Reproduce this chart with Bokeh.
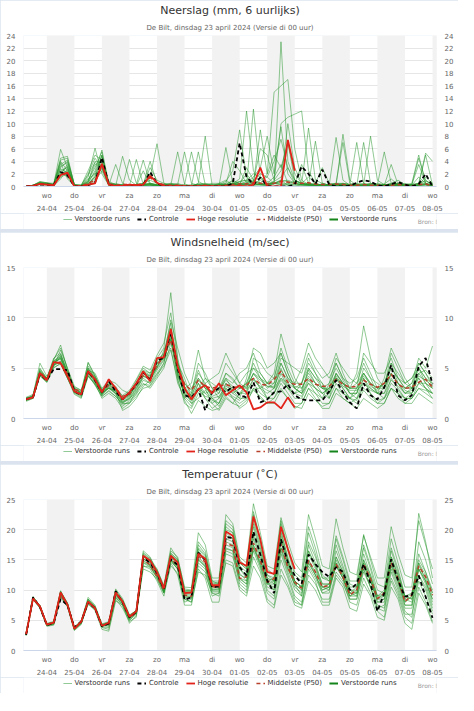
from bokeh.plotting import figure
from bokeh.models import (Range1d, FixedTicker, BoxAnnotation, Legend, LegendItem,
                          Title, LinearAxis, Label)
from bokeh.layouts import column
from bokeh.embed import file_html
from bokeh.resources import INLINE

FONT = "DejaVu Sans"

# ---------------------------------------------------------------- time axis
# 6-hourly steps after 23-04-2024 00 UTC (06, 12, 18, 00 ...), 60 steps
steps_hours = [6 * (i + 1) for i in range(60)]
day_ticks = list(range(1, 16))
day_names = ["wo", "do", "vr", "za", "zo", "ma", "di", "wo", "do", "vr", "za", "zo", "ma", "di", "wo"]
day_dates = ["24-04", "25-04", "26-04", "27-04", "28-04", "29-04", "30-04", "01-05",
             "02-05", "03-05", "04-05", "05-05", "06-05", "07-05", "08-05"]


def flat(groups):
    return [v for g in groups for v in g]


# ---------------------------------------------------------------- neerslag
precip_control = flat([[0, 0.1, 0.3, 0.3], [0.2, 2.3, 1.8, 0], [0, 0.2, 0.6, 4.6], [0.3, 0, 0.1, 0],
                       [0.1, 0.2, 2.3, 0.5], [0.1, 0, 0, 0], [0, 0, 0, 0], [0, 0, 0.5, 6.9],
                       [1.5, 0.3, 1.4, 0.1], [0, 0, 0, 0.3], [3.2, 2.0, 0.4, 2.7], [0.3, 0, 0, 0.1],
                       [0.6, 1.0, 0.8, 0.2], [0, 0.4, 0.7, 0.3], [0, 0.4, 2.0, 0]])
precip_hres = flat([[0, 0.1, 0.4, 0.3], [0.2, 1.8, 2.2, 0], [0, 0.3, 0.5, 3.6], [0.3, 0.1, 0.1, 0.3],
                    [0.2, 0.3, 1.7, 0.6], [0.1, 0, 0.1, 0], [0, 0, 0.1, 0], [0, 0, 0, 0.1],
                    [0, 0.3, 3.0, 0], [0, 0, 7.4, 2.5]])
precip_median = flat([[0, 0.1, 0.4, 0.3], [0.2, 2.0, 1.9, 0.1], [0.1, 0.5, 1.0, 3.3], [0.4, 0.2, 0.3, 0.3],
                      [0.2, 0.5, 1.4, 0.6], [0.3, 0.2, 0.2, 0.1], [0.1, 0.1, 0.2, 0.1], [0.1, 0.2, 0.3, 0.4],
                      [0.4, 0.6, 0.5, 0.4], [0.5, 0.8, 0.7, 0.5], [0.5, 0.6, 0.4, 0.3], [0.3, 0.4, 0.3, 0.2],
                      [0.2, 0.3, 0.2, 0.2], [0.1, 0.2, 0.3, 0.2], [0.1, 0.3, 0.4, 0.1]])
precip_members = [
    flat([[0, 0.1, 0.5, 0.4], [0.3, 5.9, 3.0, 0.1], [0.1, 1.5, 6.1, 2.0], [0.2, 0.1, 4.8, 1.0], [0.2, 0.5, 0.3, 0.2], [0, 0.2, 0.5, 0.1], [0, 0.5, 8.0, 0.2], [0.3, 0.8, 2.5, 9.0], [1.5, 0.3, 0.2, 0.1], [0.5, 1.0, 0.2, 0], [0.3, 0.1, 0, 0.5], [0.2, 7.8, 1.0, 0.2], [0, 0.1, 0.2, 0], [0.4, 1.2, 0.3, 0], [0, 0.3, 5.0, 0.2]]),
    flat([[0, 0.2, 0.7, 0.5], [0.2, 4.5, 4.8, 0.2], [0, 0.6, 2.5, 5.8], [0.5, 0.2, 0.1, 4.3], [0.5, 0.2, 0.2, 0.1], [0.3, 0.2, 5.5, 0.4], [0.1, 0, 0, 0], [0.2, 0.3, 0.5, 1.2], [12.0, 2.5, 0.4, 0.2], [0.8, 1.5, 3.0, 0.5], [0.2, 0.3, 0.1, 0], [0, 0.2, 0.5, 0.3], [7.0, 0.5, 0.1, 0], [0.1, 0.3, 0.5, 0.2], [0, 0.1, 0.3, 0]]),
    flat([[0, 0.1, 0.4, 0.3], [0.1, 3.0, 4.0, 0.3], [0.2, 2.5, 5.0, 4.2], [0.8, 0.3, 0.2, 0.1], [0, 0.1, 1.5, 6.8], [0.5, 0.3, 0.1, 0], [0, 0.5, 0.3, 0.2], [0.1, 6.2, 0.5, 0.3], [0.2, 12.3, 1.5, 0.5], [0.3, 23.0, 4.0, 1.0], [0.5, 0.2, 0.1, 0.1], [0, 0.3, 8.3, 1.0], [0.2, 0.1, 0, 0], [0, 0.2, 0.4, 0.1], [0.3, 4.5, 1.0, 0.2]]),
    flat([[0, 0.1, 0.6, 0.4], [0.2, 2.0, 3.5, 0.1], [0, 0.3, 1.8, 5.0], [0.3, 0.1, 0, 0.2], [0.3, 4.2, 0.5, 0.2], [0.1, 0, 0, 0.3], [5.5, 0.8, 0.2, 0.1], [0.1, 0.2, 0.3, 0.8], [1.0, 0.5, 9.0, 2.0], [15.0, 16.0, 17.0, 6.0], [1.0, 0.3, 0.1, 0.1], [0.2, 0.1, 0, 0], [0.3, 0.5, 0.2, 0.1], [0.2, 3.5, 0.3, 0], [0, 0.2, 0.5, 0.1]]),
    flat([[0, 0.1, 0.5, 0.3], [0.2, 4.0, 2.5, 0.2], [0.1, 1.0, 3.0, 5.5], [0.2, 3.5, 0.5, 0.1], [0.1, 0.2, 0.5, 0.3], [0.2, 0.5, 0.3, 0.2], [0.1, 0.2, 0.1, 0], [0, 0.3, 1.0, 0.5], [2.0, 0.5, 0.3, 0.2], [0.8, 10.0, 11.0, 11.5], [12.0, 2.5, 0.5, 0.2], [0.1, 0.3, 0.2, 0], [0, 0.2, 8.0, 1.0], [0.3, 0.2, 0.1, 0], [0.2, 1.5, 0.5, 0.1]]),
    flat([[0, 0.1, 0.4, 0.5], [0.4, 3.5, 4.2, 0.3], [0.2, 0.8, 4.0, 3.8], [0.3, 0.2, 0.2, 0.1], [0.2, 0.3, 4.0, 0.5], [0.1, 0.3, 0.2, 0.1], [0.2, 0.3, 0.5, 0.2], [0.1, 0.2, 0.1, 0.3], [0.5, 1.5, 3.0, 8.0], [2.0, 9.5, 2.0, 0.5], [0.3, 9.3, 1.0, 0.5], [0.2, 0.1, 0.1, 0], [0, 0.1, 0.3, 0.2], [0, 0.1, 0.2, 0.5], [0.2, 0.5, 5.3, 4.0]]),
    flat([[0, 0.2, 0.8, 0.6], [0.3, 2.5, 3.0, 0.2], [0, 0.4, 1.5, 4.8], [0.4, 0.2, 0.1, 0.1], [4.3, 0.3, 0.2, 0.1], [0.1, 0, 0, 0], [0, 0, 0.3, 0.5], [0.5, 0.3, 0.5, 0.4], [0.3, 0.2, 0.5, 2.0], [5.0, 3.0, 7.0, 1.0], [0.5, 0.2, 7.2, 0.5], [0.2, 0.3, 0.3, 0.1], [0.1, 0, 0, 0.3], [5.5, 0.5, 0.1, 0], [0, 0.2, 0.2, 0]]),
    flat([[0, 0.1, 0.6, 0.4], [0.2, 1.5, 2.0, 0.1], [0.1, 0.5, 1.2, 3.0], [0.2, 0.1, 0, 0], [0.1, 0.2, 0.2, 0.1], [0.3, 0.2, 0.1, 0], [0.1, 0.1, 0.1, 0.1], [0.5, 1.0, 0.3, 0.2], [0.3, 0.5, 1.0, 1.5], [0.5, 0.3, 0.5, 0.8], [0.5, 0.3, 0.2, 0.1], [0.3, 0.5, 0.3, 0.2], [0.3, 0.2, 0.1, 0.2], [0.3, 0.2, 0.3, 0.2], [0.2, 0.3, 0.5, 0.3]]),
    flat([[0, 0.1, 0.3, 0.2], [0.1, 2.8, 2.2, 0.1], [0.1, 0.8, 3.5, 3.2], [0.3, 0.5, 0.2, 0.2], [0.2, 0.5, 2.0, 0.5], [0.2, 0.1, 0.1, 0.1], [0.2, 0.2, 0.1, 0.2], [0.3, 0.5, 0.8, 0.5], [0.5, 0.8, 6.0, 5.0], [1.0, 2.5, 7.0, 2.0], [0.5, 1.5, 0.5, 0.2], [0.3, 0.5, 7.0, 0.5], [0.2, 0.1, 0.2, 0.1], [0.2, 0.5, 1.0, 0.3], [0.3, 3.5, 0.5, 0.1]]),
    flat([[0, 0.2, 0.5, 0.4], [0.3, 3.2, 3.8, 0.2], [0.1, 1.2, 2.0, 2.8], [0.4, 0.3, 0.3, 0.2], [0.3, 0.2, 0.3, 0.2], [0.2, 0.5, 0.3, 5.5], [0.5, 0.2, 0.1, 0], [0.1, 0.2, 0.3, 0.3], [0.2, 0.5, 0.3, 0.2], [0.5, 0.8, 10.0, 3.0], [0.5, 0.3, 0.2, 0.1], [0.2, 0.2, 0.1, 0.1], [0.1, 7.0, 0.5, 0.2], [0.1, 0.2, 0.3, 0.1], [0.1, 0.2, 0.3, 0.1]]),
    flat([[0, 0.1, 0.4, 0.3], [0.2, 2.2, 1.5, 0.1], [0.1, 0.3, 0.8, 2.5], [0.2, 0.1, 0.1, 0.1], [0.2, 0.3, 3.0, 1.0], [0.5, 0.3, 0.2, 0.1], [0.1, 5.5, 0.3, 0.1], [0.2, 0.3, 0.5, 0.3], [3.0, 1.0, 0.5, 0.3], [0.5, 0.3, 0.2, 0.5], [3.5, 0.5, 0.3, 0.2], [0.1, 0.2, 0.2, 0.3], [0.5, 0.3, 0.2, 0.1], [0.2, 0.1, 0.2, 0.3], [0.5, 5.0, 0.5, 0.2]]),
    flat([[0, 0.1, 0.5, 0.3], [0.1, 1.2, 2.8, 0.2], [0, 0.2, 0.5, 3.5], [0.2, 0.1, 0, 0], [0.1, 0.1, 0.3, 0.2], [0.1, 0.1, 0, 0], [0, 0, 0, 0.1], [0.2, 0.5, 4.0, 2.5], [0.5, 0.2, 0.3, 0.5], [1.5, 3.5, 0.5, 0.3], [0.2, 0.1, 0.5, 3.0], [0.5, 0.3, 0.2, 0.1], [0, 0, 0.1, 0.2], [0.3, 0.3, 0.2, 0.1], [0, 0.3, 1.5, 0.5]]),
    flat([[0, 0.2, 0.6, 0.5], [0.3, 3.8, 1.2, 0.1], [0.2, 2.0, 4.5, 3.0], [0.5, 0.3, 0.2, 0.1], [0.2, 0.3, 0.5, 0.3], [0.2, 0.2, 0.1, 0.2], [0.2, 0.3, 0.4, 0.3], [0.2, 0.3, 0.2, 0.5], [0.5, 0.8, 0.5, 0.3], [0.5, 0.5, 0.3, 0.2], [0.3, 0.5, 0.3, 0.2], [0.2, 0.5, 0.5, 0.3], [0.3, 0.2, 0.3, 0.5], [0.3, 0.3, 0.5, 0.2], [0.3, 0.5, 0.8, 0.5]]),
    flat([[0, 0.1, 0.3, 0.3], [0.2, 2.0, 3.2, 0.1], [0, 0.5, 1.5, 4.0], [0.3, 0.2, 0.1, 0.1], [0.1, 2.5, 0.3, 0.2], [0.1, 0.2, 0.1, 0.1], [0.1, 0.2, 0.2, 0.1], [0.3, 0.2, 0.3, 0.4], [0.8, 1.0, 2.0, 1.5], [4.0, 7.5, 3.0, 1.0], [0.5, 0.5, 0.3, 0.2], [0.1, 0.2, 0.3, 0.2], [0.2, 0.3, 0.2, 0.1], [0.2, 0.5, 0.3, 0.2], [0.3, 0.5, 0.3, 0.2]]),
    flat([[0, 0.1, 0.5, 0.4], [0.2, 1.8, 2.5, 0.2], [0.1, 0.7, 2.2, 5.0], [0.4, 0.2, 0.1, 0.1], [0.2, 0.3, 0.5, 0.2], [0.1, 0.1, 0.2, 0.1], [0.2, 0.1, 0.1, 0.1], [0.1, 0.2, 0.3, 0.2], [0.3, 0.5, 0.3, 0.5], [0.5, 1.0, 0.8, 0.5], [0.3, 0.2, 0.2, 0.1], [0.1, 0.2, 0.1, 0.1], [0.1, 0.2, 0.5, 0.3], [0.1, 0.2, 0.3, 0.2], [0.1, 0.2, 0.3, 0.1]]),
    flat([[0, 0.2, 0.7, 0.6], [0.5, 4.2, 4.5, 0.3], [0.2, 1.8, 3.8, 3.2], [0.6, 0.3, 0.2, 0.2], [0.3, 0.5, 1.0, 0.5], [0.3, 0.2, 0.2, 0.1], [0.1, 0.2, 0.3, 0.2], [0.2, 0.3, 0.5, 0.8], [1.0, 2.0, 1.5, 0.8], [0.5, 0.8, 1.0, 0.6], [0.4, 0.3, 0.3, 0.2], [0.2, 0.3, 0.5, 0.3], [0.2, 0.3, 0.5, 0.2], [0.2, 0.3, 0.5, 0.3], [0.2, 0.4, 1.0, 0.2]]),
]

# ---------------------------------------------------------------- wind
wind_control = flat([[1.9, 2.1, 4.4, 3.8], [4.9, 4.9, 4.8, 2.7], [2.3, 4.7, 3.8, 2.6], [3.7, 2.7, 1.9, 2.6],
                     [3.4, 4.6, 3.8, 5.8], [6.0, 8.6, 5.0, 2.3], [2.1, 2.9, 0.8, 2.6], [3.0, 2.6, 3.2, 2.3],
                     [2.1, 3.6, 1.6, 1.9], [2.6, 2.7, 3.4, 2.3], [1.9, 1.8, 1.8, 1.8], [2.7, 3.8, 2.6, 1.6],
                     [1.0, 3.5, 2.3, 1.9], [3.1, 5.3, 2.3, 1.8], [2.3, 5.2, 6.0, 3.4]])
wind_hres = flat([[1.9, 2.1, 4.5, 3.8], [5.6, 5.5, 4.2, 2.7], [2.4, 4.7, 3.9, 2.6], [3.9, 3.0, 1.9, 2.6],
                  [3.5, 4.7, 3.7, 6.0], [6.1, 8.9, 5.2, 3.0], [1.9, 2.9, 3.3, 2.5], [3.5, 2.3, 2.8, 3.3],
                  [2.6, 0.9, 1.1, 1.6], [1.6, 1.0, 2.1, 1.1]])
wind_median = flat([[1.9, 2.2, 4.6, 3.9], [5.5, 5.6, 4.4, 2.9], [2.7, 4.6, 3.8, 2.7], [3.3, 3.0, 2.2, 2.4],
                    [3.3, 4.3, 4.0, 5.3], [6.1, 7.8, 5.0, 3.4], [2.8, 3.8, 3.2, 3.0], [3.2, 3.4, 3.1, 3.1],
                    [3.3, 4.0, 3.4, 3.3], [3.9, 4.7, 3.6, 3.4], [3.4, 4.0, 3.4, 3.2], [3.2, 3.9, 3.4, 3.1],
                    [3.2, 3.8, 3.4, 3.1], [3.5, 4.4, 3.4, 3.0], [3.1, 3.6, 3.9, 3.1]])
wind_members = [
    flat([[1.8, 2.2, 4.8, 3.9], [5.8, 7.3, 4.8, 2.6], [2.3, 5.0, 4.0, 2.5], [3.5, 3.2, 2.0, 2.4], [3.3, 4.5, 4.2, 5.8], [6.5, 9.5, 4.5, 2.5], [1.8, 3.0, 2.5, 2.8], [3.0, 4.5, 3.8, 3.0], [3.5, 5.5, 4.0, 3.2], [3.0, 5.0, 3.2, 2.5], [2.8, 4.8, 3.5, 3.0], [3.5, 5.0, 3.8, 2.5], [2.5, 4.5, 3.2, 2.8], [3.5, 5.5, 3.5, 2.5], [2.8, 4.5, 4.8, 4.0]]),
    flat([[2.0, 2.3, 5.5, 4.2], [5.2, 6.8, 5.0, 3.2], [2.8, 5.5, 4.2, 2.8], [3.0, 2.5, 1.5, 2.0], [3.0, 4.0, 3.5, 4.5], [5.5, 8.5, 5.0, 3.5], [2.5, 4.5, 3.5, 2.0], [1.5, 3.5, 3.0, 2.5], [2.5, 6.0, 5.5, 4.5], [4.0, 7.0, 5.0, 3.5], [3.5, 5.5, 4.5, 3.0], [2.5, 4.0, 3.0, 2.0], [1.8, 3.5, 2.8, 2.5], [3.0, 6.5, 5.0, 3.5], [3.0, 5.5, 4.5, 3.2]]),
    flat([[1.7, 2.0, 4.2, 3.6], [5.0, 5.5, 4.0, 2.4], [2.0, 4.2, 3.5, 2.0], [2.5, 2.0, 1.0, 1.5], [2.8, 3.5, 3.0, 4.0], [5.0, 7.5, 5.5, 4.0], [2.0, 3.5, 2.0, 1.0], [1.5, 3.0, 2.0, 1.5], [2.0, 3.5, 2.5, 2.0], [2.5, 4.0, 3.0, 2.0], [2.0, 3.5, 2.5, 1.5], [1.5, 3.0, 2.0, 1.5], [2.0, 3.0, 2.5, 1.8], [2.0, 3.5, 2.8, 2.0], [2.0, 3.5, 3.0, 2.5]]),
    flat([[2.1, 2.4, 5.0, 4.0], [6.0, 6.5, 4.5, 3.0], [2.5, 4.8, 4.5, 3.0], [3.8, 3.5, 2.8, 2.5], [3.8, 5.0, 4.5, 6.0], [7.0, 12.5, 6.0, 3.0], [3.5, 6.8, 4.0, 3.0], [2.5, 4.0, 3.5, 4.5], [5.0, 6.5, 4.5, 3.5], [4.5, 8.4, 6.0, 4.0], [3.0, 4.5, 3.5, 2.5], [3.0, 5.5, 4.0, 3.5], [4.0, 6.0, 4.5, 3.0], [3.5, 5.0, 4.0, 3.0], [3.5, 6.0, 5.0, 7.2]]),
    flat([[1.9, 2.1, 4.4, 3.7], [5.4, 5.5, 4.0, 2.7], [2.5, 4.5, 3.8, 2.5], [3.0, 2.8, 1.8, 2.2], [3.5, 4.8, 4.5, 5.5], [6.0, 8.0, 4.0, 1.5], [1.0, 2.5, 3.5, 4.0], [4.5, 6.5, 5.0, 3.5], [3.0, 4.5, 3.5, 2.0], [2.5, 4.5, 3.0, 2.5], [3.5, 6.0, 4.5, 3.5], [2.5, 4.0, 3.0, 2.0], [2.5, 5.0, 4.0, 2.5], [2.0, 4.0, 3.0, 2.0], [2.5, 4.0, 3.0, 2.0]]),
    flat([[2.0, 2.2, 4.6, 3.9], [5.6, 6.0, 4.4, 2.9], [2.6, 4.7, 3.7, 2.3], [3.2, 2.4, 1.2, 1.8], [2.5, 3.8, 3.5, 4.8], [5.8, 7.0, 3.5, 2.0], [2.5, 5.5, 4.5, 3.0], [2.0, 3.5, 2.5, 2.0], [4.0, 7.0, 6.5, 5.0], [5.5, 6.5, 4.5, 3.0], [2.5, 4.0, 3.0, 2.0], [3.5, 6.0, 5.0, 4.0], [3.5, 5.5, 4.0, 3.5], [3.0, 4.5, 3.5, 2.5], [3.0, 5.0, 4.0, 3.0]]),
    flat([[1.8, 2.0, 4.5, 3.8], [5.3, 5.7, 4.2, 2.6], [2.2, 4.3, 3.3, 2.2], [2.8, 2.2, 1.5, 1.5], [2.2, 3.0, 3.2, 4.2], [5.5, 8.8, 5.2, 2.8], [1.5, 2.0, 2.8, 2.0], [1.2, 2.5, 2.0, 1.0], [1.5, 3.0, 2.0, 1.5], [2.0, 3.5, 2.5, 1.5], [1.5, 3.0, 2.0, 1.0], [1.0, 2.5, 2.0, 1.5], [1.0, 2.0, 1.5, 1.0], [1.5, 3.0, 2.5, 1.5], [1.5, 2.5, 2.0, 1.5]]),
    flat([[2.0, 2.1, 4.7, 3.8], [5.7, 6.3, 4.6, 3.0], [2.7, 5.2, 4.2, 2.9], [3.6, 3.0, 2.2, 2.6], [3.6, 4.6, 4.0, 5.2], [6.2, 9.8, 7.0, 4.5], [3.0, 4.0, 3.0, 2.5], [3.5, 5.5, 4.5, 3.5], [4.5, 5.0, 4.0, 3.0], [3.5, 6.0, 5.5, 5.0], [4.5, 6.5, 5.0, 4.0], [4.5, 6.5, 4.5, 3.0], [3.0, 6.5, 5.5, 4.5], [4.5, 6.0, 4.0, 3.5], [4.0, 5.5, 4.5, 3.5]]),
    flat([[1.9, 2.3, 4.5, 3.9], [5.2, 6.2, 4.3, 2.7], [2.4, 4.6, 3.6, 2.4], [3.3, 2.6, 0.8, 1.2], [2.0, 3.2, 3.8, 5.0], [6.8, 8.2, 4.8, 3.2], [2.2, 4.0, 3.0, 1.5], [0.8, 2.0, 1.5, 2.5], [3.5, 4.0, 3.0, 2.5], [3.0, 5.5, 4.0, 3.0], [2.5, 5.0, 4.0, 3.5], [2.0, 3.5, 2.5, 2.0], [3.0, 4.5, 3.5, 2.5], [2.5, 4.5, 3.5, 2.8], [2.5, 4.5, 3.5, 2.5]]),
    flat([[1.8, 2.2, 4.9, 4.0], [5.9, 7.0, 5.0, 2.8], [2.4, 5.6, 4.3, 2.7], [3.4, 2.9, 2.3, 2.8], [3.9, 5.2, 4.8, 6.3], [7.5, 10.5, 5.8, 2.0], [1.2, 3.0, 2.0, 1.5], [2.0, 3.0, 2.5, 3.0], [3.0, 4.5, 4.0, 3.5], [3.5, 5.5, 4.0, 3.5], [5.0, 7.5, 6.0, 5.0], [4.0, 5.5, 4.0, 3.0], [4.5, 9.2, 6.0, 4.0], [3.0, 5.5, 4.5, 3.5], [4.0, 5.0, 3.5, 3.0]]),
    flat([[2.0, 2.0, 4.3, 3.7], [5.5, 6.0, 4.5, 3.1], [2.8, 4.4, 3.4, 2.6], [3.0, 2.7, 1.7, 2.0], [2.6, 4.2, 4.0, 5.5], [6.0, 7.8, 4.2, 2.5], [2.0, 3.0, 4.0, 3.5], [3.0, 4.0, 2.8, 2.0], [2.0, 3.0, 3.0, 3.5], [3.0, 4.0, 3.5, 3.0], [2.5, 3.5, 3.0, 2.5], [2.0, 4.5, 3.5, 2.5], [2.0, 4.0, 3.0, 2.5], [4.0, 7.0, 5.5, 4.0], [3.0, 4.0, 3.0, 2.5]]),
    flat([[1.9, 2.2, 4.6, 3.9], [5.6, 5.9, 4.1, 2.5], [2.1, 4.6, 3.9, 2.4], [3.1, 2.7, 1.6, 1.9], [2.9, 4.3, 3.9, 5.1], [6.2, 8.6, 4.6, 2.2], [1.5, 3.5, 2.5, 1.8], [1.5, 2.8, 2.2, 1.8], [2.5, 4.0, 3.0, 2.0], [2.0, 3.0, 2.0, 1.0], [1.5, 3.0, 2.5, 2.0], [2.5, 4.0, 3.5, 2.5], [2.5, 4.0, 2.5, 1.5], [1.5, 3.0, 2.0, 1.5], [2.0, 3.0, 2.5, 2.0]]),
    flat([[2.1, 2.1, 4.4, 3.8], [5.4, 6.4, 4.7, 2.9], [2.6, 5.0, 4.1, 2.8], [3.4, 3.0, 2.0, 2.3], [3.4, 4.7, 4.3, 5.7], [6.4, 9.0, 5.5, 3.5], [2.8, 4.8, 3.2, 2.2], [2.5, 4.5, 4.0, 3.0], [3.5, 5.0, 4.5, 3.5], [4.0, 6.5, 4.5, 3.0], [3.5, 5.0, 4.0, 3.0], [3.0, 4.5, 3.5, 3.0], [3.5, 4.5, 3.5, 3.0], [3.5, 5.0, 4.0, 3.0], [3.5, 5.0, 4.0, 3.5]]),
    flat([[1.8, 2.1, 4.5, 3.7], [5.3, 5.6, 4.2, 2.8], [2.5, 4.5, 3.6, 2.4], [3.0, 2.5, 1.6, 2.1], [3.1, 4.2, 3.8, 5.0], [5.9, 7.9, 4.3, 2.4], [1.8, 2.8, 2.2, 2.0], [2.2, 3.2, 2.8, 2.5], [2.8, 3.8, 3.2, 2.8], [2.5, 3.8, 3.0, 2.5], [2.2, 3.8, 3.0, 2.5], [3.0, 4.2, 3.2, 2.8], [2.8, 3.5, 3.0, 2.5], [2.5, 3.8, 3.2, 2.5], [2.5, 3.5, 3.5, 3.0]]),
    flat([[2.0, 2.2, 4.7, 4.0], [5.7, 6.1, 4.5, 3.0], [2.5, 4.9, 4.0, 2.6], [3.3, 2.8, 1.9, 2.3], [3.2, 4.6, 4.2, 5.4], [6.3, 8.3, 4.7, 2.7], [2.3, 3.8, 3.0, 2.6], [2.8, 3.8, 3.2, 3.0], [3.2, 4.4, 3.8, 3.2], [3.2, 4.8, 3.8, 3.2], [3.0, 4.2, 3.5, 3.0], [2.8, 4.4, 3.5, 3.0], [3.0, 4.2, 3.5, 3.0], [3.0, 4.4, 3.5, 3.0], [3.0, 4.2, 3.8, 3.2]]),
    flat([[1.9, 2.0, 4.3, 3.6], [5.1, 5.4, 4.0, 2.6], [2.3, 4.2, 3.4, 2.2], [2.7, 2.2, 1.4, 1.6], [2.4, 3.4, 3.3, 4.4], [5.2, 6.8, 3.8, 1.8], [0.5, 1.8, 1.2, 0.8], [1.0, 2.2, 1.5, 1.2], [1.8, 2.8, 2.2, 1.5], [1.5, 2.8, 2.0, 1.2], [1.0, 2.5, 1.8, 1.2], [1.5, 3.0, 2.5, 2.0], [1.5, 2.8, 2.0, 1.5], [2.0, 3.0, 2.5, 2.0], [2.0, 3.0, 2.8, 2.5]]),
]

# ---------------------------------------------------------------- temperatuur
temp_control = flat([[2.6, 8.8, 7.2, 4.2], [4.5, 8.5, 7.5, 3.8], [4.8, 8.0, 7.0, 4.0], [4.5, 9.8, 8.0, 5.5],
                     [6.4, 15.4, 14.5, 12.8], [10.2, 15.1, 14.2, 8.4], [8.8, 16.2, 15.0, 10.5], [10.6, 18.8, 18.6, 13.8],
                     [12.4, 19.7, 15.9, 11.6], [9.5, 18.4, 14.6, 12.4], [11.1, 15.9, 14.3, 13.0], [12.2, 13.8, 13.0, 10.0],
                     [11.1, 14.3, 11.1, 6.5], [9.5, 15.1, 11.6, 8.9], [9.2, 12.4, 8.9, 5.4]])
temp_hres = flat([[2.7, 8.6, 7.3, 4.3], [4.6, 9.6, 7.6, 3.6], [4.8, 8.1, 7.0, 4.1], [4.6, 9.6, 8.1, 5.6],
                  [6.5, 15.7, 14.9, 13.0], [10.3, 15.7, 14.6, 9.5], [9.6, 16.0, 15.2, 10.8], [10.8, 19.7, 19.0, 14.6],
                  [14.0, 22.2, 18.4, 13.0], [12.7, 20.5, 16.8, 13.5]])
temp_median = flat([[2.7, 8.7, 7.3, 4.3], [4.6, 9.2, 7.5, 3.8], [4.7, 8.0, 7.0, 4.1], [4.3, 9.4, 8.1, 5.4],
                    [6.3, 15.0, 14.2, 12.3], [10.0, 15.3, 14.0, 9.2], [9.0, 15.7, 14.6, 10.6], [10.4, 17.8, 17.3, 11.9],
                    [12.2, 17.8, 14.9, 11.3], [11.9, 17.6, 13.8, 11.3], [10.3, 14.9, 13.0, 10.5], [10.8, 14.3, 12.2, 9.2],
                    [10.0, 14.3, 11.9, 8.6], [9.5, 14.6, 11.9, 8.1], [9.2, 14.0, 12.2, 9.2]])
temp_members = [
    flat([[2.5, 8.9, 7.4, 4.2], [4.4, 9.3, 7.8, 3.5], [4.5, 8.5, 7.2, 3.8], [3.5, 8.5, 7.0, 4.8], [5.5, 16.5, 15.5, 12.8], [9.8, 16.0, 15.0, 9.8], [10.0, 17.5, 16.0, 11.5], [11.0, 21.0, 20.0, 14.5], [13.5, 23.0, 18.5, 12.5], [12.0, 21.5, 17.0, 13.0], [12.0, 20.5, 17.0, 12.5], [11.5, 18.5, 15.0, 11.0], [10.5, 17.5, 14.0, 10.0], [9.5, 17.0, 13.5, 9.0], [8.5, 18.0, 15.0, 11.0]]),
    flat([[2.6, 8.5, 7.2, 4.4], [4.7, 9.0, 7.4, 3.7], [4.6, 7.6, 6.8, 4.2], [4.0, 9.0, 7.8, 5.2], [6.8, 15.0, 14.0, 12.0], [10.5, 15.0, 13.5, 8.5], [8.0, 14.5, 13.5, 9.5], [9.0, 16.5, 16.0, 11.0], [10.0, 17.0, 14.0, 10.0], [9.0, 16.0, 12.5, 9.0], [8.0, 14.0, 12.0, 9.5], [10.0, 15.5, 13.0, 9.5], [9.5, 13.5, 10.5, 7.5], [7.0, 12.0, 9.5, 6.0], [6.0, 11.5, 9.0, 6.0]]),
    flat([[2.8, 8.7, 7.3, 4.3], [4.5, 9.8, 7.9, 3.9], [5.0, 8.8, 7.5, 4.4], [4.8, 10.2, 8.6, 5.9], [6.6, 15.5, 14.8, 13.4], [10.8, 17.0, 15.2, 10.5], [10.4, 19.5, 17.5, 12.0], [12.0, 22.5, 21.0, 15.5], [14.5, 24.3, 19.5, 14.0], [13.5, 22.0, 18.0, 14.5], [13.0, 22.5, 18.5, 14.0], [13.5, 21.8, 17.0, 13.0], [12.5, 19.0, 15.5, 12.0], [12.0, 20.5, 16.0, 12.5], [12.0, 21.5, 17.5, 13.5]]),
    flat([[2.7, 8.6, 7.1, 4.1], [4.3, 9.1, 7.3, 3.4], [4.4, 7.8, 6.6, 3.5], [3.2, 8.2, 7.5, 4.5], [5.8, 14.0, 13.5, 11.5], [9.0, 14.5, 12.5, 7.5], [7.5, 13.5, 12.0, 8.0], [8.0, 15.0, 14.5, 10.5], [9.5, 15.5, 13.0, 8.5], [7.5, 13.5, 11.0, 8.0], [7.5, 12.5, 11.0, 8.5], [8.5, 13.0, 11.5, 8.0], [7.5, 12.0, 9.5, 6.5], [5.5, 11.5, 9.0, 5.5], [4.5, 10.5, 8.0, 4.8]]),
    flat([[2.6, 8.8, 7.5, 4.5], [4.8, 9.9, 7.7, 3.8], [4.9, 8.3, 7.1, 4.3], [4.7, 9.8, 8.3, 5.7], [6.7, 16.0, 15.2, 13.2], [10.5, 16.2, 15.0, 10.0], [9.8, 17.0, 15.8, 11.2], [11.2, 20.0, 19.5, 14.0], [13.0, 21.5, 17.5, 12.0], [11.0, 19.5, 15.5, 11.5], [10.5, 17.5, 14.5, 11.0], [11.0, 16.5, 13.5, 10.0], [9.5, 16.0, 12.5, 8.5], [8.5, 15.5, 12.5, 8.5], [8.0, 14.5, 11.5, 8.0]]),
    flat([[2.5, 8.4, 7.0, 4.0], [4.2, 8.8, 7.2, 3.3], [4.3, 8.2, 7.2, 4.0], [4.2, 9.5, 7.9, 5.3], [6.2, 14.5, 13.8, 12.0], [9.5, 15.2, 13.8, 8.8], [8.8, 15.5, 14.2, 10.0], [10.0, 18.5, 18.0, 12.8], [11.5, 19.0, 15.5, 11.0], [10.5, 18.5, 14.5, 10.5], [9.5, 16.5, 14.0, 10.5], [10.0, 14.0, 12.0, 9.0], [9.0, 15.0, 12.0, 8.0], [8.0, 14.5, 11.5, 7.5], [7.5, 13.5, 11.5, 8.5]]),
    flat([[2.8, 8.9, 7.4, 4.4], [4.6, 9.5, 7.6, 3.6], [4.7, 8.1, 6.9, 4.0], [4.5, 9.2, 8.0, 5.5], [6.4, 15.8, 15.0, 13.0], [10.2, 15.8, 14.8, 9.5], [9.5, 16.5, 15.0, 10.5], [10.5, 19.5, 18.5, 13.5], [12.0, 20.5, 16.5, 11.5], [10.0, 20.0, 15.0, 11.0], [9.0, 18.0, 15.5, 12.0], [11.5, 17.5, 14.0, 10.5], [10.5, 17.0, 13.5, 9.0], [9.0, 16.5, 13.0, 9.0], [8.5, 16.0, 13.0, 9.5]]),
    flat([[2.7, 8.5, 7.2, 4.2], [4.5, 9.4, 7.5, 3.6], [4.6, 7.9, 6.9, 4.1], [4.4, 9.3, 7.9, 5.4], [6.3, 14.8, 14.2, 12.5], [9.8, 15.0, 13.8, 9.0], [9.0, 15.2, 14.0, 10.0], [10.2, 17.5, 17.0, 12.0], [11.0, 17.5, 14.5, 11.0], [11.5, 17.0, 13.5, 11.0], [10.0, 14.5, 12.5, 10.0], [10.5, 14.0, 12.0, 9.0], [10.0, 14.0, 11.5, 8.5], [9.5, 14.5, 11.5, 8.0], [9.0, 14.0, 12.0, 9.0]]),
    flat([[2.6, 8.7, 7.3, 4.3], [4.6, 9.6, 7.6, 3.7], [4.8, 8.4, 7.3, 4.3], [4.6, 10.0, 8.4, 5.8], [6.6, 16.2, 15.3, 13.5], [10.5, 16.5, 15.5, 10.2], [10.0, 18.0, 16.5, 11.5], [11.5, 21.5, 20.5, 15.0], [13.8, 22.5, 18.0, 13.5], [12.5, 21.0, 16.5, 12.5], [11.5, 19.5, 16.0, 12.0], [12.0, 19.0, 15.5, 11.5], [11.5, 19.2, 15.0, 11.0], [10.5, 18.5, 14.5, 10.5], [10.5, 22.7, 18.0, 12.0]]),
    flat([[2.7, 8.6, 7.2, 4.2], [4.4, 9.2, 7.4, 3.5], [4.5, 7.9, 6.8, 3.9], [3.8, 8.8, 7.6, 5.0], [6.0, 15.2, 14.5, 12.6], [9.6, 14.8, 13.5, 8.0], [8.5, 14.0, 13.0, 9.0], [9.5, 16.0, 15.5, 11.5], [10.5, 16.5, 13.5, 9.5], [8.5, 15.0, 12.0, 8.5], [7.5, 13.5, 11.5, 8.0], [8.0, 12.5, 11.0, 8.5], [8.5, 13.0, 10.5, 7.0], [6.5, 13.0, 10.0, 6.5], [5.5, 12.5, 10.5, 7.0]]),
    flat([[2.7, 8.8, 7.4, 4.4], [4.7, 9.7, 7.8, 3.8], [4.8, 8.2, 7.0, 4.1], [4.6, 9.7, 8.2, 5.7], [6.5, 15.5, 14.8, 13.0], [10.4, 15.5, 14.5, 9.8], [9.7, 16.8, 15.5, 11.0], [11.2, 20.5, 19.5, 14.5], [13.5, 21.0, 17.0, 12.5], [11.5, 19.0, 15.0, 11.5], [10.5, 16.0, 13.5, 10.5], [10.5, 15.0, 12.5, 9.5], [9.0, 14.5, 11.5, 8.0], [8.5, 14.0, 11.0, 7.5], [7.5, 13.5, 11.0, 7.5]]),
    flat([[2.6, 8.6, 7.3, 4.3], [4.5, 9.5, 7.6, 3.6], [4.7, 8.0, 7.0, 4.1], [4.5, 9.5, 8.1, 5.5], [6.4, 14.0, 13.8, 12.5], [10.0, 15.5, 14.2, 9.3], [9.3, 16.0, 14.8, 10.8], [10.8, 18.0, 17.5, 12.5], [12.0, 18.5, 15.0, 11.5], [12.0, 18.0, 14.0, 11.5], [10.5, 15.0, 13.0, 10.5], [11.0, 14.5, 12.5, 9.5], [10.5, 14.5, 12.0, 9.0], [10.0, 15.0, 12.0, 8.5], [9.5, 14.5, 12.5, 9.5]]),
    flat([[2.8, 8.8, 7.4, 4.3], [4.6, 9.6, 7.7, 3.7], [4.7, 8.1, 7.0, 4.0], [4.4, 9.4, 8.0, 5.5], [6.3, 15.2, 14.5, 12.8], [10.0, 15.0, 14.0, 9.0], [9.0, 15.0, 14.0, 10.2], [10.2, 17.0, 16.5, 12.0], [11.5, 17.0, 14.5, 11.0], [11.0, 17.0, 13.5, 11.0], [10.0, 14.5, 12.5, 10.0], [10.5, 14.0, 12.0, 9.0], [9.5, 14.0, 11.5, 8.5], [9.0, 14.0, 11.5, 8.0], [9.0, 13.5, 11.5, 8.5]]),
    flat([[2.5, 8.6, 7.2, 4.2], [4.5, 9.7, 7.6, 3.6], [4.7, 8.5, 7.3, 4.2], [4.3, 8.8, 7.4, 5.0], [6.2, 13.5, 13.0, 11.8], [9.5, 14.0, 12.8, 8.5], [8.0, 13.0, 12.5, 9.5], [9.5, 14.5, 14.0, 10.0], [9.0, 14.0, 12.0, 8.0], [7.0, 12.5, 10.5, 7.5], [7.0, 11.5, 10.0, 7.5], [7.5, 12.0, 10.5, 7.0], [6.5, 11.0, 9.0, 5.5], [5.0, 10.5, 8.5, 4.5], [3.5, 9.5, 7.5, 4.5]]),
    flat([[2.7, 8.7, 7.3, 4.3], [4.6, 9.5, 7.6, 3.6], [4.8, 8.1, 7.0, 4.1], [4.6, 9.6, 8.1, 5.6], [6.5, 15.6, 14.8, 12.9], [10.2, 15.6, 14.5, 9.6], [9.6, 16.2, 15.0, 10.8], [10.9, 19.0, 18.5, 13.5], [12.5, 19.5, 16.0, 12.0], [11.5, 18.5, 14.5, 11.5], [10.5, 16.5, 14.0, 11.0], [11.0, 15.5, 13.0, 10.0], [10.0, 15.0, 12.5, 9.0], [9.5, 15.5, 12.5, 9.0], [9.5, 15.0, 13.0, 10.0]]),
    flat([[2.6, 8.5, 7.1, 4.2], [4.4, 9.3, 7.4, 3.5], [4.6, 8.0, 6.9, 4.0], [4.4, 9.2, 7.8, 5.2], [6.2, 14.6, 14.0, 12.2], [9.7, 14.8, 13.5, 8.7], [8.7, 15.0, 13.8, 9.8], [9.8, 16.8, 16.5, 11.8], [11.0, 17.5, 14.0, 10.5], [10.0, 16.5, 13.0, 10.0], [9.0, 15.0, 12.5, 9.5], [9.5, 14.5, 12.0, 8.5], [8.5, 13.5, 10.5, 7.0], [7.5, 13.5, 10.5, 7.0], [7.0, 12.5, 10.0, 6.5]]),
]

for s in [precip_control, precip_median, wind_control, wind_median, temp_control, temp_median] \
        + precip_members + wind_members + temp_members:
    assert len(s) == 60, len(s)
for s in [precip_hres, wind_hres, temp_hres]:
    assert len(s) == 40, len(s)

SUBTITLE = "De Bilt, dinsdag 23 april 2024 (Versie di 00 uur)"
LEGEND_LABELS = ["Verstoorde runs", "Controle", "Hoge resolutie", "Middelste (P50)", "Verstoorde runs"]
SOURCE = "Bron: ECMWF/KNMI"

ENS_COLOR = "#24952a"
ENS_ALPHA = 0.5
DARK_GREEN = "#15841b"
RED = "#e2231a"
MEDIAN_COLOR = "#b8402a"

LINE_STYLES = [
    dict(line_color=ENS_COLOR, line_alpha=ENS_ALPHA, line_width=1),
    dict(line_color="black", line_width=1.8, line_dash="4 3"),
    dict(line_color=RED, line_width=1.8),
    dict(line_color=MEDIAN_COLOR, line_width=1.5, line_dash="4 3"),
    dict(line_color=DARK_GREEN, line_width=2),
]


def style_x_axis(ax, labels, line_color, standoff):
    ax.ticker = FixedTicker(ticks=day_ticks)
    ax.major_label_overrides = {d: lab for d, lab in zip(day_ticks, labels)}
    ax.major_label_text_align = "left"
    ax.major_label_text_font = FONT
    ax.major_label_text_font_size = "7px"
    ax.major_label_text_color = "#666666"
    ax.major_label_standoff = standoff
    ax.axis_line_color = line_color
    ax.major_tick_line_color = None
    ax.minor_tick_line_color = None
    ax.major_tick_out = 0
    ax.major_tick_in = 0
    ax.minor_tick_out = 0


def make_panel(title, ymax, ystep, members, control, hres, median):
    x = [h / 24.0 for h in steps_hours]
    p = figure(width=458, height=213, output_backend="svg", toolbar_location=None,
               x_range=Range1d(0.154, 15.145), y_range=Range1d(0, ymax),
               min_border_left=23, min_border_right=22, min_border_top=34, min_border_bottom=0)
    p.title.text = title
    p.title.align = "center"
    p.title.text_font = FONT
    p.title.text_font_size = "11px"
    p.title.text_color = "#333333"
    p.title.text_font_style = "normal"
    p.title.standoff = 2
    p.outline_line_color = None

    # alternating day bands
    for d in day_ticks[::2]:
        p.add_layout(BoxAnnotation(left=d, right=d + 1, fill_color="#f2f2f2", fill_alpha=1.0,
                                   line_color=None, level="underlay"))

    p.xgrid.visible = False
    p.ygrid.grid_line_color = "#e6e6e6"
    yt = FixedTicker(ticks=list(range(0, ymax + 1, ystep)))
    p.ygrid.ticker = yt

    p.yaxis[0].ticker = yt
    right = LinearAxis(ticker=yt)
    p.add_layout(right, "right")
    for ax in [p.yaxis[0], right]:
        ax.axis_line_color = None
        ax.major_tick_line_color = None
        ax.minor_tick_line_color = None
        ax.major_tick_out = 0
        ax.major_tick_in = 0
        ax.minor_tick_out = 0
        ax.major_label_text_font = FONT
        ax.major_label_text_font_size = "7px"
        ax.major_label_text_color = "#666666"
        ax.major_label_standoff = 8

    style_x_axis(p.xaxis[0], day_names, "#ccd6eb", 5)
    date_axis = LinearAxis()
    style_x_axis(date_axis, day_dates, None, 2)
    p.add_layout(date_axis, "below")

    p.multi_line(xs=[x] * len(members), ys=members, **LINE_STYLES[0])
    p.line(x, median, **LINE_STYLES[3])
    p.line(x, control, **LINE_STYLES[1])
    p.line(x[:len(hres)], hres, **LINE_STYLES[2])

    p.add_layout(Title(text=SUBTITLE, align="center", text_font=FONT, text_font_size="7px",
                       text_color="#666666", text_font_style="normal", standoff=8), "above")

    # legend strip under the chart: its swatch renderers carry the series but the
    # strip's y-range lies below all values, so only the legend itself shows
    lg = figure(width=458, height=16, output_backend="svg", toolbar_location=None,
                x_range=Range1d(0.154, 15.145), y_range=Range1d(-2, -1),
                x_axis_location=None, y_axis_location=None,
                min_border_left=0, min_border_right=0, min_border_top=0, min_border_bottom=0)
    lg.grid.visible = False
    lg.outline_line_color = None
    series = [members[0], control, hres, median, members[0]]
    rends = [lg.line(x[:len(s)], s, **st) for s, st in zip(series, LINE_STYLES)]
    legend = Legend(items=[LegendItem(label=l, renderers=[r]) for l, r in zip(LEGEND_LABELS, rends)],
                    orientation="horizontal", location="top_center",
                    label_text_font=FONT, label_text_font_size="7px", label_text_color="#333333",
                    glyph_width=9, glyph_height=8, label_height=8, label_standoff=3, spacing=7,
                    padding=0, margin=2, border_line_color=None, background_fill_alpha=0)
    lg.add_layout(legend)
    lg.add_layout(Label(x=452, y=8, x_units="screen", y_units="screen", text=SOURCE,
                        text_align="right", text_baseline="middle", text_font=FONT,
                        text_font_size="6px", text_color="#999999"))
    return column(p, lg, spacing=0)


p1 = make_panel("Neerslag (mm, 6 uurlijks)", 24, 2, precip_members, precip_control, precip_hres, precip_median)
p2 = make_panel("Windsnelheid (m/sec)", 15, 5, wind_members, wind_control, wind_hres, wind_median)
p3 = make_panel("Temperatuur (˚C)", 25, 5, temp_members, temp_control, temp_hres, temp_median)

layout = column(p1, p2, p3, spacing=3, styles={"background-color": "#dbe4ee"})

open("out.html", "w").write(file_html(layout, INLINE))
